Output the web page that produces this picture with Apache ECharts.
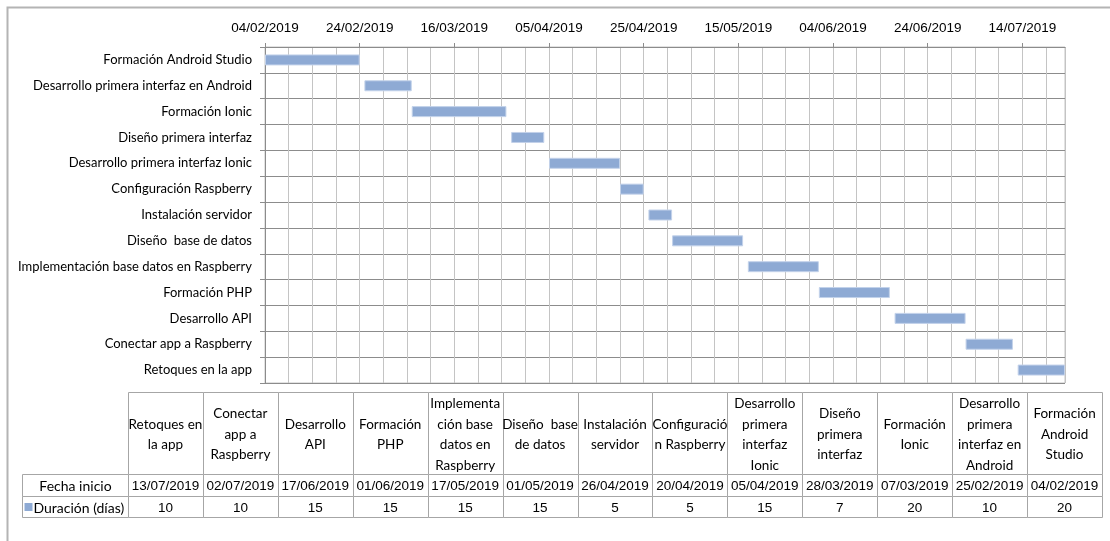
<!DOCTYPE html>
<html>
<head>
<meta charset="utf-8">
<script src="https://cdn.jsdelivr.net/npm/echarts@6/dist/echarts.min.js"></script>
<style>html,body{margin:0;padding:0;background:#fff}#c{width:1110px;height:541px}</style>
</head>
<body>
<div id="c"></div>
<script>
// ---- data (table order, as in the source sheet) ----
const tasks = ['Retoques en la app', 'Conectar app a Raspberry', 'Desarrollo API', 'Formación PHP',
  'Implementación base datos en Raspberry', 'Diseño  base de datos', 'Instalación servidor',
  'Configuración Raspberry', 'Desarrollo primera interfaz Ionic', 'Diseño primera interfaz',
  'Formación Ionic', 'Desarrollo primera interfaz en Android', 'Formación Android Studio'];
const tableHeaders = ['Retoques en\nla app', 'Conectar\napp a\nRaspberry', 'Desarrollo\nAPI', 'Formación\nPHP',
  'Implementa\nción base\ndatos en\nRaspberry', 'Diseño  base\nde datos', 'Instalación\nservidor',
  'Configuració\nn Raspberry', 'Desarrollo\nprimera\ninterfaz\nIonic', 'Diseño\nprimera\ninterfaz',
  'Formación\nIonic', 'Desarrollo\nprimera\ninterfaz en\nAndroid', 'Formación\nAndroid\nStudio'];
const startDates = ['13/07/2019', '02/07/2019', '17/06/2019', '01/06/2019', '17/05/2019', '01/05/2019',
  '26/04/2019', '20/04/2019', '05/04/2019', '28/03/2019', '07/03/2019', '25/02/2019', '04/02/2019'];
const durations = [10, 10, 15, 15, 15, 15, 5, 5, 15, 7, 20, 10, 20];
const rowLabels = ['Fecha inicio', 'Duración (días)'];
const tickStepDays = 20;
const minorStepDays = 5;

// ---- helpers ----
const DAY = 86400000;
function parseD(s) { const p = s.split('/'); return Date.UTC(+p[2], +p[1] - 1, +p[0]); }
function fmtD(t) {
  const d = new Date(t);
  const dd = String(d.getUTCDate()).padStart(2, '0');
  const mm = String(d.getUTCMonth() + 1).padStart(2, '0');
  return dd + '/' + mm + '/' + d.getUTCFullYear();
}
const startMs = startDates.map(parseD);
const origin = Math.min.apply(null, startMs);
const startDays = startMs.map(t => Math.round((t - origin) / DAY));
const endDays = startDays.map((s, i) => s + durations[i]);
const maxDay = Math.max.apply(null, endDays);

const FONT = "Lato, 'Liberation Sans', Arial, sans-serif";
const NUMFONT = "'Liberation Sans', Arial, sans-serif";
const FS = 13.5;
const NFS = 13.5;
const BAR = '#8eaad4';
const BAND = [[0, 82], [82, 104], [104, 125]];
const ROWLAB_W = 106;
const CELL_STROKE = '#a6a6a6';

function cellRender(params, api) {
  const i = api.value(0), r = api.value(1);
  const cx = api.coord([i, 0])[0];
  const w = api.size([1, 0])[0];
  const y0 = Math.round(api.coord([i, BAND[r][0]])[1]) + 0.5;
  const y1 = Math.round(api.coord([i, BAND[r][1]])[1]) + 0.5;
  const x0 = Math.round(cx - w / 2) + 0.5;
  const x1 = Math.round(cx + w / 2) + 0.5;
  let txt, font;
  if (r === 0) { txt = tableHeaders[i]; font = FS + 'px ' + FONT; }
  else if (r === 1) { txt = startDates[i]; font = NFS + 'px ' + NUMFONT; }
  else { txt = String(durations[i]); font = NFS + 'px ' + NUMFONT; }
  return {
    type: 'group',
    children: [
      { type: 'rect', shape: { x: x0, y: y0, width: x1 - x0, height: y1 - y0 },
        style: { fill: '#fff', stroke: CELL_STROKE, lineWidth: 1 } },
      { type: 'text', style: { text: txt, x: cx, y: (y0 + y1) / 2 + 1, align: 'center', verticalAlign: 'middle',
        font: font, lineHeight: 20.5, fill: '#000' } }
    ]
  };
}

function rowLabelRender(params, api) {
  const r = api.value(1);
  const cx = api.coord([0, 0])[0];
  const w = api.size([1, 0])[0];
  const x1 = Math.round(cx - w / 2) + 0.5;
  const x0 = x1 - ROWLAB_W;
  const y0 = Math.round(api.coord([0, BAND[r][0]])[1]) + 0.5;
  const y1 = Math.round(api.coord([0, BAND[r][1]])[1]) + 0.5;
  const ym = (y0 + y1) / 2;
  const children = [
    { type: 'rect', shape: { x: x0, y: y0, width: x1 - x0, height: y1 - y0 },
      style: { fill: '#fff', stroke: CELL_STROKE, lineWidth: 1 } }
  ];
  if (r === 2) {
    children.push({ type: 'rect', shape: { x: x0 + 2, y: ym - 4, width: 8, height: 8 }, style: { fill: BAR } });
    children.push({ type: 'text', style: { text: rowLabels[1], x: x0 + 11, y: ym + 1, align: 'left', verticalAlign: 'middle',
      font: (FS + 0.5) + 'px ' + FONT, fill: '#000' } });
  } else {
    children.push({ type: 'text', style: { text: rowLabels[0], x: (x0 + x1) / 2, y: ym + 1, align: 'center', verticalAlign: 'middle',
      font: (FS + 0.5) + 'px ' + FONT, fill: '#000' } });
  }
  return { type: 'group', children: children };
}

const cellData = [];
for (let i = 0; i < tasks.length; i++) for (let r = 0; r < 3; r++) cellData.push([i, r]);

const chart = echarts.init(document.getElementById('c'), null, { renderer: 'canvas' });
chart.setOption({
  animation: false,
  backgroundColor: '#fff',
  textStyle: { fontFamily: FONT },
  graphic: [{
    type: 'rect', silent: true, z: -10,
    shape: { x: 7.5, y: 7.5, width: 1300, height: 700 },
    style: { fill: 'none', stroke: '#b4b4b4', lineWidth: 2 }
  }],
  grid: [
    { left: 265, right: 45, top: 47, bottom: 158, show: true, borderColor: '#c4c4c4', borderWidth: 1, backgroundColor: 'transparent' },
    { left: 128, right: 8, top: 392, bottom: 24 }
  ],
  xAxis: [
    {
      gridIndex: 0, type: 'value', position: 'top', min: 0, max: maxDay, interval: tickStepDays,
      axisLine: { show: true, lineStyle: { color: '#8c8c8c', width: 1 } },
      axisTick: { show: true, length: 4, lineStyle: { color: '#8c8c8c' } },
      axisLabel: { margin: 12, fontSize: NFS, color: '#000', fontFamily: NUMFONT,
        formatter: v => fmtD(origin + v * DAY) },
      splitLine: { show: true, lineStyle: { color: '#c4c4c4', width: 1 } },
      minorTick: { show: false, splitNumber: tickStepDays / minorStepDays },
      minorSplitLine: { show: true, lineStyle: { color: '#c4c4c4', width: 1 } }
    },
    { gridIndex: 1, type: 'category', data: tasks, show: false }
  ],
  yAxis: [
    {
      gridIndex: 0, type: 'category', data: tasks,
      axisLine: { show: true, lineStyle: { color: '#8c8c8c' } },
      axisTick: { show: true, length: 5, lineStyle: { color: '#8c8c8c' } },
      axisLabel: { margin: 13, fontSize: 13, color: '#000', fontFamily: FONT },
      splitLine: { show: true, lineStyle: { color: '#8c8c8c', width: 1 } }
    },
    { gridIndex: 1, type: 'value', min: 0, max: 125, inverse: true, show: false, splitLine: { show: false } }
  ],
  series: [
    {
      name: 'Fecha inicio', type: 'bar', stack: 'g', xAxisIndex: 0, yAxisIndex: 0,
      data: startDays, barWidth: 11, itemStyle: { color: 'transparent' }, silent: true
    },
    {
      name: 'Duración (días)', type: 'bar', stack: 'g', xAxisIndex: 0, yAxisIndex: 0,
      data: durations, barWidth: 11,
      itemStyle: { color: BAR, borderColor: '#c3d2ea', borderWidth: 1 }
    },
    {
      type: 'custom', xAxisIndex: 1, yAxisIndex: 1, data: cellData, renderItem: cellRender, clip: false, silent: true
    },
    {
      type: 'custom', xAxisIndex: 1, yAxisIndex: 1, data: [[0, 1], [0, 2]], renderItem: rowLabelRender, clip: false, silent: true
    }
  ]
});
</script>
</body>
</html>
